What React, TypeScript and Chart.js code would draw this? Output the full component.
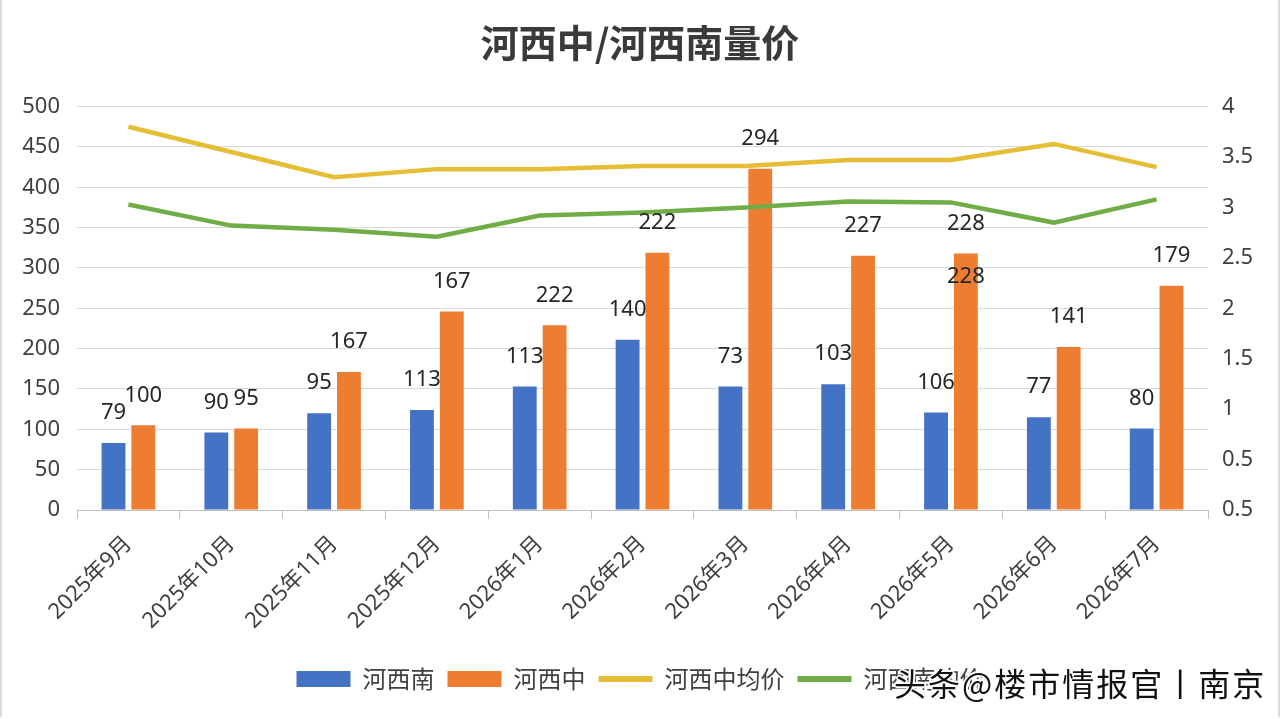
import React, { useEffect, useRef } from "react";
import { Chart, registerables } from "chart.js";

Chart.register(...registerables);

const categories = [
  "2025年9月", "2025年10月", "2025年11月", "2025年12月", "2026年1月", "2026年2月",
  "2026年3月", "2026年4月", "2026年5月", "2026年6月", "2026年7月",
];
const southVolume = [83, 96, 120, 124, 153, 211, 153, 156, 121, 115, 101];
const centralVolume = [105, 101, 171, 246, 229, 319, 423, 315, 318, 202, 278];
const centralPrice = [3.8, 3.55, 3.3, 3.38, 3.38, 3.41, 3.41, 3.47, 3.47, 3.63, 3.4];
const southPrice = [3.03, 2.82, 2.78, 2.71, 2.92, 2.95, 3.0, 3.06, 3.05, 2.85, 3.08];
const southLabels = ["79", "90", "95", "113", "113", "140", "73", "103", "106", "77", "80"];
const centralLabels = ["100", "95", "167", "167", "222", "222", "294", "227", "228", "141", "179"];
const centralInnerLabels = ["", "", "", "", "", "", "", "", "228", "", ""];
const rightTickLabels = ["0.5", "0.5", "1", "1.5", "2", "2.5", "3", "3.5", "4"];
const seriesNames = ["河西南", "河西中", "河西中均价", "河西南均价"];
const seriesColors = ["#4472C4", "#ED7D31", "#E6BE35", "#70AD47"];

const FONT = "'Noto Sans', 'Noto Sans CJK SC', sans-serif";
const CJK = "'Noto Sans CJK SC', 'Noto Sans', sans-serif";

const labelPlugin = {
  id: "barLabels",
  afterDraw(chart: any) {
    const ctx = chart.ctx;
    ctx.save();
    ctx.font = `22px ${FONT}`;
    ctx.fillStyle = "#262626";
    ctx.textAlign = "center";
    ctx.textBaseline = "middle";
    const sets = [
      { idx: 0, labels: southLabels, dy: -30 },
      { idx: 1, labels: centralLabels, dy: -30 },
      { idx: 1, labels: centralInnerLabels, dy: 23 },
    ];
    sets.forEach((s) => {
      const meta = chart.getDatasetMeta(s.idx);
      meta.data.forEach((el: any, i: number) => {
        const t = s.labels[i];
        if (t) ctx.fillText(t, el.x, el.y + s.dy);
      });
    });
    ctx.restore();
  },
};

export default function App() {
  const ref = useRef<HTMLCanvasElement | null>(null);

  useEffect(() => {
    if (!ref.current) return;
    const chart = new Chart(ref.current, {
      type: "bar",
      data: {
        labels: categories,
        datasets: [
          {
            type: "bar",
            label: seriesNames[0],
            data: southVolume,
            backgroundColor: seriesColors[0],
            yAxisID: "y",
            order: 1,
            categoryPercentage: 0.58,
            barPercentage: 0.8,
          },
          {
            type: "bar",
            label: seriesNames[1],
            data: centralVolume,
            backgroundColor: seriesColors[1],
            yAxisID: "y",
            order: 1,
            categoryPercentage: 0.58,
            barPercentage: 0.8,
          },
          {
            type: "line",
            label: seriesNames[2],
            data: centralPrice,
            borderColor: seriesColors[2],
            backgroundColor: seriesColors[2],
            borderWidth: 4.5,
            pointRadius: 0,
            tension: 0,
            yAxisID: "y1",
            order: 0,
          },
          {
            type: "line",
            label: seriesNames[3],
            data: southPrice,
            borderColor: seriesColors[3],
            backgroundColor: seriesColors[3],
            borderWidth: 4.5,
            pointRadius: 0,
            tension: 0,
            yAxisID: "y1",
            order: 0,
          },
        ] as any,
      },
      options: {
        responsive: false,
        animation: false,
        layout: { padding: { left: 0, right: 0, top: 0, bottom: 18 } },
        plugins: {
          tooltip: { enabled: false },
          title: {
            display: true,
            text: "河西中/河西南量价",
            color: "#3a3a3a",
            font: { family: CJK, size: 38, weight: "bold" },
            padding: { top: 20, bottom: 41 },
          },
          legend: {
            position: "bottom",
            labels: {
              usePointStyle: true,
              pointStyleWidth: 54,
              boxHeight: 16,
              padding: 13,
              color: "#404040",
              font: { family: CJK, size: 24 },
              sort: (a: any, b: any) => a.datasetIndex - b.datasetIndex,
              generateLabels: (c: any) =>
                Chart.defaults.plugins.legend.labels.generateLabels(c).map((l: any) => ({
                  ...l,
                  pointStyle: l.datasetIndex < 2 ? "rect" : "line",
                  fillStyle: seriesColors[l.datasetIndex],
                  strokeStyle: seriesColors[l.datasetIndex],
                  lineWidth: l.datasetIndex < 2 ? 0 : 6,
                })),
            },
          },
        },
        scales: {
          x: {
            grid: {
              display: true,
              drawOnChartArea: false,
              drawTicks: true,
              tickLength: 9,
              color: "#bfbfbf",
            },
            border: { display: true, color: "#bfbfbf" },
            ticks: {
              color: "#404040",
              font: { family: FONT, size: 22 },
              maxRotation: 45,
              minRotation: 45,
              padding: 12,
            },
            afterFit: (axis: any) => {
              axis.height = 144;
            },
          },
          y: {
            position: "left",
            min: 0,
            max: 500,
            ticks: {
              stepSize: 50,
              color: "#404040",
              font: { family: FONT, size: 22 },
              padding: 17,
            },
            grid: { color: "#d9d9d9", drawTicks: false },
            border: { display: false },
            afterFit: (axis: any) => {
              axis.width = 77;
            },
          },
          y1: {
            position: "right",
            min: 0,
            max: 4,
            ticks: {
              stepSize: 0.5,
              color: "#404040",
              font: { family: FONT, size: 22 },
              padding: 14,
              callback: (_v: any, i: number) => rightTickLabels[i],
            },
            grid: { display: false, drawTicks: false },
            border: { display: false },
            afterFit: (axis: any) => {
              axis.width = 72;
            },
          },
        },
      },
      plugins: [labelPlugin],
    } as any);
    return () => chart.destroy();
  }, []);

  return (
    <div
      style={{
        position: "absolute",
        left: 0,
        top: 0,
        width: 1280,
        height: 719,
        background: "#ffffff",
        overflow: "hidden",
      }}
    >
      <canvas ref={ref} width={1280} height={719} style={{ display: "block" }} />
      <div
        style={{
          position: "absolute",
          left: 0,
          top: 0,
          width: 1276,
          height: 717,
          borderLeft: "2px solid #dcdcdc",
          borderRight: "2px solid #dcdcdc",
          pointerEvents: "none",
        }}
      />
      <div
        style={{
          position: "absolute",
          left: 894,
          top: 662,
          fontFamily: CJK,
          fontSize: 32,
          letterSpacing: 2,
          lineHeight: "40px",
          color: "#111111",
          whiteSpace: "nowrap",
          textShadow:
            "2px 0 0 #fff, -2px 0 0 #fff, 0 2px 0 #fff, 0 -2px 0 #fff, 1px 1px 0 #fff, -1px -1px 0 #fff, 1px -1px 0 #fff, -1px 1px 0 #fff",
        }}
      >
        头条@楼市情报官丨南京
      </div>
    </div>
  );
}
